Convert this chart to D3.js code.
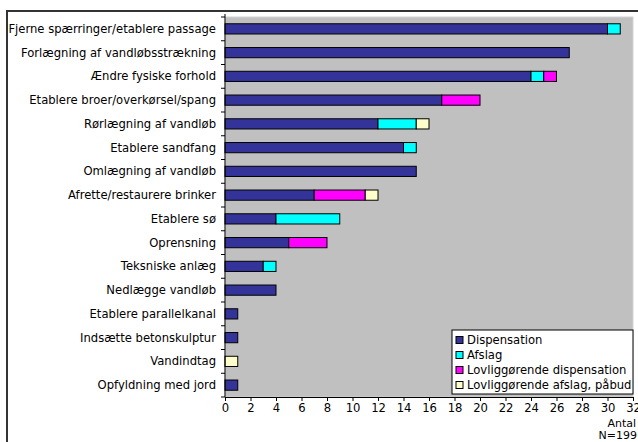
<!DOCTYPE html>
<html>
<head>
<meta charset="utf-8">
<script src="https://cdn.jsdelivr.net/npm/d3@7"></script>
<style>
  body { margin: 0; background: #fff; }
  svg { font-family: "DejaVu Sans", Verdana, sans-serif; }
</style>
</head>
<body>
<svg id="chart" width="638" height="442"></svg>
<script>
var categories = [
    "Fjerne spærringer/etablere passage",
    "Forlægning af vandløbsstrækning",
    "Ændre fysiske forhold",
    "Etablere broer/overkørsel/spang",
    "Rørlægning af vandløb",
    "Etablere sandfang",
    "Omlægning af vandløb",
    "Afrette/restaurere brinker",
    "Etablere sø",
    "Oprensning",
    "Teksniske anlæg",
    "Nedlægge vandløb",
    "Etablere parallelkanal",
    "Indsætte betonskulptur",
    "Vandindtag",
    "Opfyldning med jord"
];
var seriesNames = ["Dispensation", "Afslag", "Lovliggørende dispensation", "Lovliggørende afslag, påbud"];
var dispensation = [30, 27, 24, 17, 12, 14, 15, 7, 4, 5, 3, 4, 1, 1, 0, 1];
var afslag       = [1, 0, 1, 0, 3, 1, 0, 0, 5, 0, 1, 0, 0, 0, 0, 0];
var lovDisp      = [0, 0, 1, 3, 0, 0, 0, 4, 0, 3, 0, 0, 0, 0, 0, 0];
var lovAfslag    = [0, 0, 0, 0, 1, 0, 0, 1, 0, 0, 0, 0, 0, 0, 1, 0];
var xTicks = d3.range(0, 33, 2);
var colors = ["#333399", "#00FFFF", "#FF00FF", "#FFFFCC"];

var rows = categories.map(function (c, i) {
    return { cat: c, s0: dispensation[i], s1: afslag[i], s2: lovDisp[i], s3: lovAfslag[i] };
});
var stack = d3.stack().keys(["s0", "s1", "s2", "s3"])(rows);

var svg = d3.select("#chart");
var margin = { top: 17, left: 225, right: 633, bottom: 397 };
var fs = "11.6px";

// outer frame
svg.append("rect")
    .attr("x", 7).attr("y", 11)
    .attr("width", 700).attr("height", 500)
    .attr("fill", "#fff")
    .attr("stroke", "#333").attr("stroke-width", 2);

var x = d3.scaleLinear().domain([0, 32]).range([margin.left, margin.right]);
var y = d3.scaleBand().domain(categories)
    .range([margin.top, margin.bottom])
    .paddingInner(0.57).paddingOuter(0.285);

// plot area
svg.append("rect")
    .attr("x", margin.left).attr("y", margin.top)
    .attr("width", margin.right - margin.left)
    .attr("height", margin.bottom - margin.top)
    .attr("fill", "#C0C0C0")
    .attr("stroke", "#d4d4d4").attr("stroke-width", 1);

// bars
var layer = svg.selectAll("g.layer")
    .data(stack)
    .enter().append("g")
    .attr("class", "layer")
    .attr("fill", function (d, i) { return colors[i]; });

layer.selectAll("rect")
    .data(function (d) { return d.filter(function (p) { return p[1] > p[0]; }); })
    .enter().append("rect")
    .attr("x", function (d) { return x(d[0]); })
    .attr("y", function (d) { return y(d.data.cat); })
    .attr("width", function (d) { return x(d[1]) - x(d[0]); })
    .attr("height", y.bandwidth())
    .attr("stroke", "#000")
    .attr("stroke-width", 1);

// y axis: ticks at band boundaries
var yBounds = d3.range(0, categories.length + 1).map(function (i) { return margin.top + i * (margin.bottom - margin.top) / categories.length; });
svg.append("line")
    .attr("x1", margin.left).attr("x2", margin.left)
    .attr("y1", margin.top - 3).attr("y2", margin.bottom)
    .attr("stroke", "#000");
svg.selectAll("line.ytick")
    .data(yBounds)
    .enter().append("line")
    .attr("class", "ytick")
    .attr("x1", margin.left - 4).attr("x2", margin.left)
    .attr("y1", function (d) { return d; }).attr("y2", function (d) { return d; })
    .attr("stroke", "#000");
svg.selectAll("text.ylab")
    .data(categories)
    .enter().append("text")
    .attr("class", "ylab")
    .attr("x", margin.left - 9)
    .attr("y", function (d) { return y(d) + y.bandwidth() / 2; })
    .attr("dy", "0.35em")
    .attr("text-anchor", "end")
    .attr("font-size", fs)
    .attr("fill", "#000")
    .text(function (d) { return d; });

// x axis
var xAxis = svg.append("g")
    .attr("transform", "translate(0," + margin.bottom + ")")
    .call(d3.axisBottom(x).tickValues(xTicks).tickSize(4).tickSizeOuter(0));
xAxis.select(".domain").attr("stroke", "#000");
xAxis.selectAll(".tick line").attr("stroke", "#000");
xAxis.selectAll("text")
    .attr("font-family", "DejaVu Sans, Verdana, sans-serif")
    .attr("font-size", fs).attr("fill", "#000").attr("dy", "0.72em");

svg.append("text")
    .attr("x", 636).attr("y", 427)
    .attr("text-anchor", "end").attr("font-size", "11px")
    .text("Antal");
svg.append("text")
    .attr("x", 637).attr("y", 439)
    .attr("text-anchor", "end")
    .attr("font-size", "11px")
    .text("N=199");

// legend
var lg = svg.append("g").attr("transform", "translate(452,330)");
lg.append("rect")
    .attr("width", 181).attr("height", 64)
    .attr("fill", "#fff").attr("stroke", "#000");
var li = lg.selectAll("g.item")
    .data(seriesNames)
    .enter().append("g")
    .attr("class", "item")
    .attr("transform", function (d, i) { return "translate(4," + (10 + i * 15) + ")"; });
li.append("rect")
    .attr("x", 0).attr("y", -3.5)
    .attr("width", 7).attr("height", 7)
    .attr("fill", function (d, i) { return colors[i]; })
    .attr("stroke", "#000");
li.append("text")
    .attr("x", 11).attr("dy", "0.35em")
    .attr("font-size", fs)
    .text(function (d) { return d; });
</script>
</body>
</html>
